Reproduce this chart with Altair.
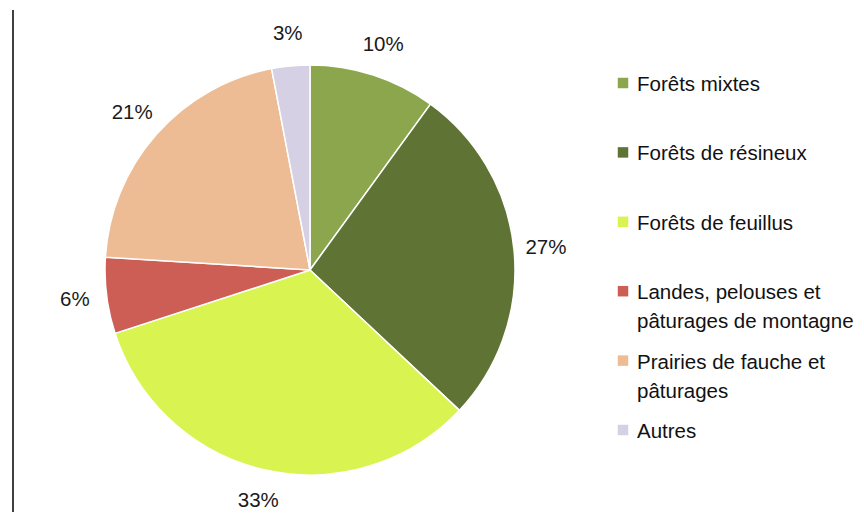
import altair as alt
import pandas as pd

categories = ["Forêts mixtes", "Forêts de résineux", "Forêts de feuillus",
              "Landes, pelouses et pâturages de montagne",
              "Prairies de fauche et pâturages", "Autres"]
legend_labels = ["Forêts mixtes", "Forêts de résineux", "Forêts de feuillus",
                 "Landes, pelouses et\npâturages de montagne",
                 "Prairies de fauche et\npâturages", "Autres"]
values = [10, 27, 33, 6, 21, 3]
colors = ["#8CA64E", "#5F7434", "#D9F451", "#CC5E56", "#EDBC95", "#D5D0E3"]

df = pd.DataFrame({
    "cat": categories,
    "legend": legend_labels,
    "value": values,
    "order": list(range(len(categories))),
    "label": [f"{v}%" for v in values],
})

FONT = "Liberation Sans"
color_scale = alt.Scale(domain=categories, range=colors)
cx, cy = 302, 262

base = alt.Chart(df)

pie = base.mark_arc(radius=205, stroke="white", strokeWidth=1.5).encode(
    theta=alt.Theta("value:Q", stack=True),
    color=alt.Color("cat:N", scale=color_scale, legend=None),
    order=alt.Order("order:Q"),
    x=alt.value(cx), y=alt.value(cy),
)

labels = base.mark_text(radius=237, fontSize=20.5, font=FONT, color="#1a1a1a").encode(
    theta=alt.Theta("value:Q", stack=True),
    order=alt.Order("order:Q"),
    text="label:N",
    x=alt.value(cx), y=alt.value(cy),
)

yscale = alt.Scale(domain=[0, 5], range=[75, 422])

leg_sym = base.mark_square(size=110, opacity=1).encode(
    x=alt.value(615),
    y=alt.Y("order:Q", scale=yscale, axis=None),
    color=alt.Color("cat:N", scale=color_scale, legend=None),
)

leg_txt = base.mark_text(align="left", baseline="alphabetic", dy=8, fontSize=20.5,
                         font=FONT, lineBreak="\n", lineHeight=29,
                         color="#111111").encode(
    x=alt.value(629),
    y=alt.Y("order:Q", scale=yscale, axis=None),
    text="legend:N",
)

border = alt.Chart(pd.DataFrame({"v": [0]})).mark_rule(color="#000000", strokeWidth=1.5).encode(
    x=alt.value(5), y=alt.value(2), y2=alt.value(504),
)

chart = alt.layer(border, pie, labels, leg_sym, leg_txt).properties(
    width=848, height=504, padding=0,
    autosize=alt.AutoSizeParams(type="none"),
).configure_view(stroke=None)

chart.save("out.html", embed_options={"renderer": "svg", "actions": False})
